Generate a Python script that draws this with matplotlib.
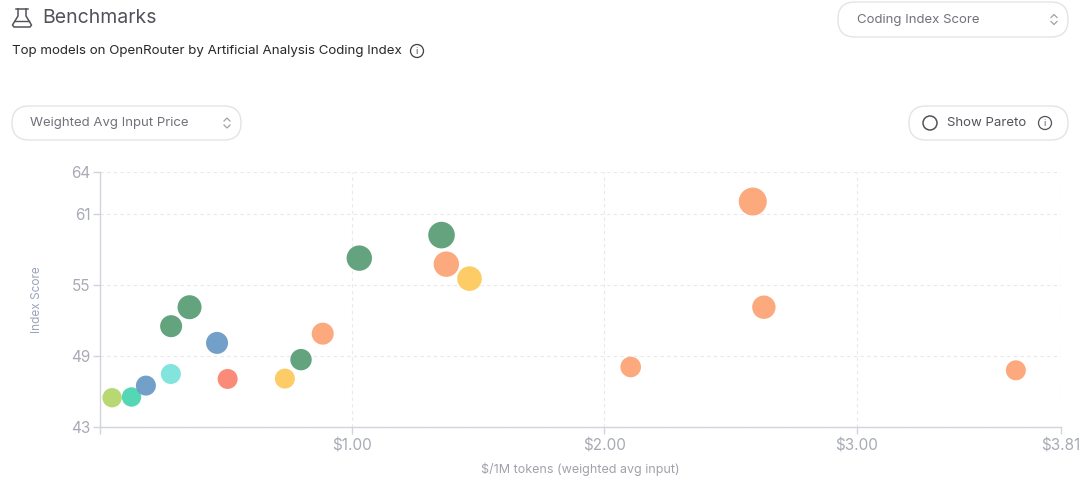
import matplotlib
matplotlib.use("Agg")
import matplotlib.pyplot as plt
from matplotlib.patches import FancyBboxPatch, Circle
import numpy as np

plt.rcParams['font.family'] = ['Inter', 'DejaVu Sans']

# ---- data ----
price = [0.048, 0.125, 0.182, 0.281, 0.282, 0.355, 0.464, 0.506, 0.733, 0.797,
         0.883, 1.028, 1.354, 1.373, 1.465, 2.104, 2.588, 2.632, 3.631]
score = [45.47, 45.53, 46.49, 47.47, 51.50, 53.10, 50.09, 47.05, 47.08, 48.68,
         50.87, 57.24, 59.18, 56.73, 55.51, 48.06, 62.01, 53.10, 47.78]
usage = [9.7, 9.7, 10, 10, 11, 12, 11, 10, 10, 10.7,
         11, 12.7, 13.3, 12.7, 12.3, 10.3, 14, 11.7, 10]
provider = ['g', 'teal', 'blue', 'cyan', 'green', 'green', 'blue', 'red', 'yellow', 'green',
            'orange', 'green', 'green', 'orange', 'yellow', 'orange', 'orange', 'orange', 'orange']
x_ticks = [0, 1, 2, 3, 3.81]
x_labels = ['', '$1.00', '$2.00', '$3.00', '$3.81']
y_ticks = [43, 49, 55, 61, 64.5]
y_labels = ['43', '49', '55', '61', '64']

palette = {'g': '#b4d66c', 'teal': '#4cd4b0', 'blue': '#6b9bc6', 'cyan': '#7be3da',
           'green': '#5b9e77', 'red': '#fa8571', 'yellow': '#fdca5e', 'orange': '#fca577'}

W, H, DPI = 1080, 488, 100
fig = plt.figure(figsize=(W / DPI, H / DPI), dpi=DPI)
fig.patch.set_facecolor('white')

# overlay in pixel coordinates
ui = fig.add_axes([0, 0, 1, 1])
ui.set_xlim(0, W)
ui.set_ylim(H, 0)
ui.axis('off')

def rbox(x0, y0, x1, y1):
    p = FancyBboxPatch((x0, y0), x1 - x0, y1 - y0,
                       boxstyle="round,pad=0,rounding_size=17",
                       fc='white', ec='#e4e4e7', lw=1.0)
    ui.add_patch(p)

def chevron(cx, cy):
    ui.plot([cx - 3, cx, cx + 3], [cy - 2, cy - 5, cy - 2], color='#a1a1aa', lw=0.9)
    ui.plot([cx - 3, cx, cx + 3], [cy + 2, cy + 5, cy + 2], color='#a1a1aa', lw=0.9)

def info(cx, cy, r=6.5, col='#52525b'):
    ui.add_patch(Circle((cx, cy), r, fc='none', ec=col, lw=0.9))
    ui.text(cx, cy + 0.5, 'i', ha='center', va='center', fontsize=6.5, color=col)

# flask icon
fc = '#52525b'
ui.plot([16, 28], [9, 9], color=fc, lw=1.1)
ui.plot([18, 18, 12.5, 14, 30, 31.5, 26, 26],
        [9, 16, 25, 27, 27, 25, 16, 9], color=fc, lw=1.1, solid_joinstyle='round')
ui.plot([15, 29], [20.5, 20.5], color=fc, lw=1.0)

ui.text(42, 18, 'Benchmarks', fontsize=14, color='#52525b', va='center', ha='left')
ui.text(12, 51, 'Top models on OpenRouter by Artificial Analysis Coding Index',
        fontsize=9.6, color='#27272a', va='center', ha='left')
info(417, 51, col='#3f3f46')

# dropdowns
rbox(838, 2, 1068, 37)
ui.text(857, 19.5, 'Coding Index Score', fontsize=9.5, color='#71717a', va='center')
chevron(1054, 19.5)

rbox(12, 106, 241, 140)
ui.text(30, 123, 'Weighted Avg Input Price', fontsize=9.5, color='#71717a', va='center')
chevron(227, 123)

rbox(909, 106, 1068, 140)
ui.add_patch(Circle((930, 123), 7, fc='none', ec='#52525b', lw=1.1))
ui.text(947, 123, 'Show Pareto', fontsize=9.5, color='#52525b', va='center')
info(1045, 123, col='#52525b')

# chart
ax = fig.add_axes([100 / W, 1 - 427 / H, (1061 - 100) / W, (427 - 172) / H])
ax.set_facecolor('none')
sizes = [(2 * r * 72 / DPI) ** 2 for r in usage]
ax.scatter(price, score, s=sizes, c=[palette[p] for p in provider],
           linewidths=0, alpha=0.95, zorder=3)
ax.set_xlim(0, 3.81)
ax.set_ylim(43, 64.5)
ax.set_xticks(x_ticks)
ax.set_xticklabels(x_labels)
ax.set_yticks(y_ticks)
ax.set_yticklabels(y_labels)
ax.grid(True, color='#e9e9ec', ls=(0, (3, 3)), lw=0.8, zorder=0)
for s in ['top', 'right']:
    ax.spines[s].set_visible(False)
for s in ['left', 'bottom']:
    ax.spines[s].set_color('#d1d5db')
    ax.spines[s].set_linewidth(1.0)
ax.tick_params(axis='both', colors='#d1d5db', labelcolor='#a8abb5', labelsize=11,
               length=5, width=1.0, direction='out')
ax.tick_params(axis='x', pad=3)
ax.tick_params(axis='y', pad=2)
ax.set_xlabel('$/1M tokens (weighted avg input)', fontsize=9, color='#a1a1aa', labelpad=7)
ax.set_ylabel('Index Score', fontsize=8.5, color='#9aa3b8', labelpad=20)

fig.savefig('out.png', dpi=DPI, facecolor='white')
